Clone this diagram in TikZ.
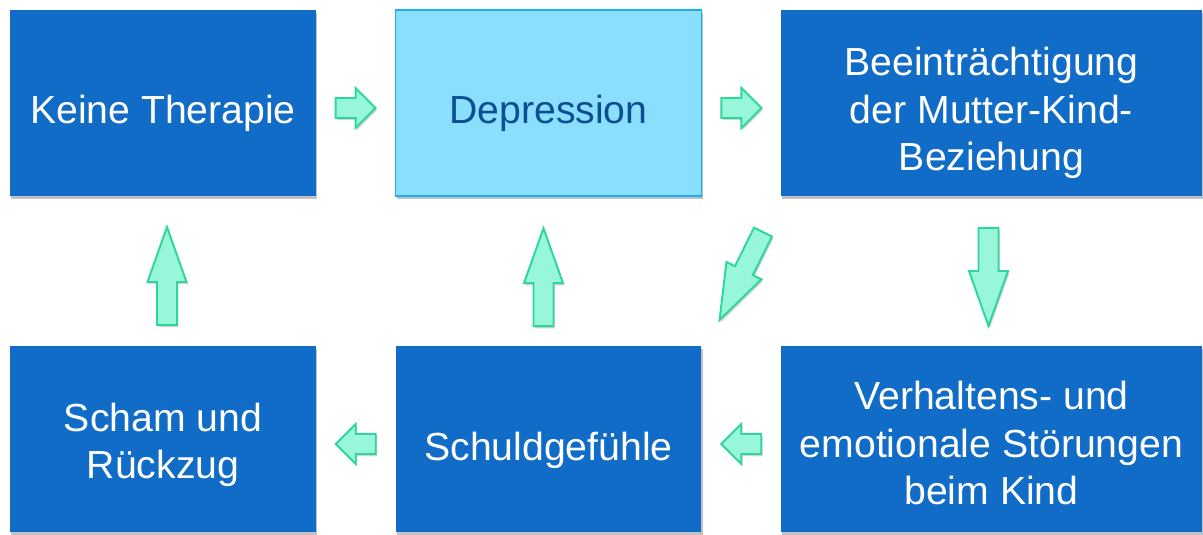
\documentclass[tikz,border=0pt]{standalone}
\usepackage{fontspec}
\setmainfont{Liberation Sans}
\usetikzlibrary{calc,shadows}

\definecolor{boxblue}{RGB}{16,108,198}
\definecolor{deprfill}{RGB}{138,223,255}
\definecolor{deprline}{RGB}{26,175,235}
\definecolor{deprtext}{RGB}{12,78,145}
\definecolor{arrowfill}{RGB}{152,246,218}
\definecolor{arrowline}{RGB}{45,215,155}

\tikzset{
  bluebox/.style={rectangle,fill=boxblue,minimum width=6.12cm,minimum height=3.72cm,inner sep=0pt,
    drop shadow={shadow xshift=0.8pt,shadow yshift=-1.8pt,opacity=0.35,fill=black!70}},
  boxtext/.style={text=white,align=center,inner sep=0pt,font=\fontsize{22.3}{27}\selectfont},
  blockarrow/.style={fill=arrowfill,draw=arrowline,line width=1.1pt,line join=miter,
    drop shadow={shadow xshift=0.8pt,shadow yshift=-1.2pt,opacity=0.25,fill=black!70}},
  shortarrow/.pic={\path[blockarrow] (-20,-10) -- (0,-10) -- (0,-20) -- (20,0) -- (0,20) -- (0,10) -- (-20,10) -- cycle;},
  longarrow/.pic={\path[blockarrow] (-49,-10) -- (-6,-10) -- (-6,-19.5) -- (49,0) -- (-6,19.5) -- (-6,10) -- (-49,10) -- cycle;}
}

\begin{document}
\begin{tikzpicture}[x=0.02cm,y=-0.02cm]
\useasboundingbox (0,0) rectangle (1203,534);

% boxes
\node[bluebox,label={[boxtext,yshift=-5.7pt]center:Keine Therapie}] (keine) at (163,103) {};
\node[bluebox,fill=deprfill,draw=deprline,line width=0.8pt,
      label={[boxtext,text=deprtext,yshift=-5.7pt]center:Depression}] (depr) at (548.5,103) {};
\node[bluebox,minimum width=8.42cm,
      label={[boxtext,yshift=-5.7pt]center:Beeinträchtigung\\der Mutter-Kind-\\Beziehung}] (beein) at (991.5,103) {};
\node[bluebox,label={[boxtext,yshift=-3.4pt]center:Scham und\\Rückzug}] (scham) at (163,439) {};
\node[bluebox,label={[boxtext,yshift=-6.2pt]center:Schuldgefühle}] (schuld) at (548.5,439) {};
\node[bluebox,minimum width=8.42cm,
      label={[boxtext,yshift=-2.3pt]center:Verhaltens- und\\emotionale Störungen\\beim Kind}] (verh) at (991.5,439) {};

% block arrows
\pic at ($(keine.east)!0.5!(depr.west)+(0,5)$) {shortarrow};
\pic at ($(depr.east)!0.5!(beein.west)+(0,5)$) {shortarrow};
\pic[rotate=-90] at ($(beein.south)!0.5!(verh.north)+(-3,6)$) {longarrow};
\pic[rotate=180] at ($(verh.west)!0.5!(schuld.east)+(0,5)$) {shortarrow};
\pic[rotate=180] at ($(schuld.west)!0.5!(scham.east)+(0,5)$) {shortarrow};
\pic[rotate=90] at ($(schuld.north)!0.5!(depr.south)+(-5,6)$) {longarrow};
\pic[rotate=90] at ($(scham.north)!0.5!(keine.south)+(4,5)$) {longarrow};
\pic[rotate=-116.3] at ($(beein.south west)!0.5!(schuld.north east)+(0,5)$) {longarrow};
\end{tikzpicture}
\end{document}
